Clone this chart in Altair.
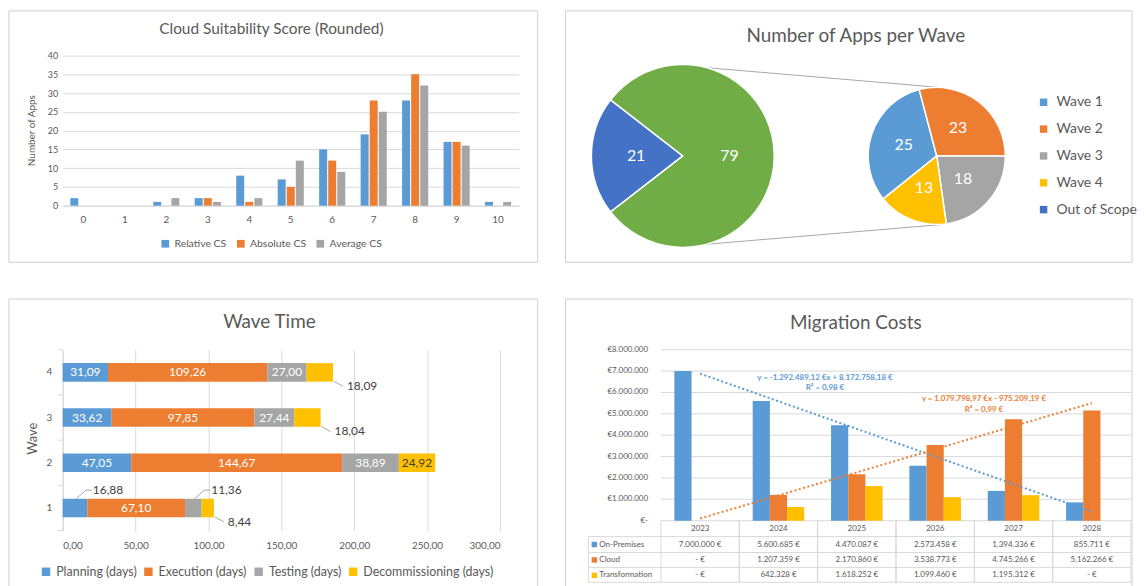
import math
import altair as alt
import pandas as pd

FONT = "Lato"
TXT = "#595959"
DARK = "#404040"
GRID = "#D9D9D9"
FRAME = "#D0D0D0"
LEADER = "#A6A6A6"
BLUE, ORANGE, GRAY, YELLOW = "#5B9BD5", "#ED7D31", "#A5A5A5", "#FFC000"
DBLUE, GREEN = "#4472C4", "#70AD47"

# ---------------- data ----------------
# Cloud Suitability Score (Rounded)
scores = [str(i) for i in range(11)]
cs_series = ["Relative CS", "Absolute CS", "Average CS"]
relative_cs = [2, 0, 1, 2, 8, 7, 15, 19, 28, 17, 1]
absolute_cs = [0, 0, 0, 2, 1, 5, 12, 28, 35, 17, 0]
average_cs = [0, 0, 2, 1, 2, 12, 9, 25, 32, 16, 1]

# Number of Apps per Wave (pie of pie)
scope_labels = ["Out of Scope", "In Scope"]
scope_counts = [21, 79]
wave_labels = ["Wave 1", "Wave 2", "Wave 3", "Wave 4"]
wave_counts = [25, 23, 18, 13]

# Wave Time
waves = ["1", "2", "3", "4"]
stages = ["Planning (days)", "Execution (days)", "Testing (days)", "Decommissioning (days)"]
planning_days = [16.88, 47.05, 33.62, 31.09]
execution_days = [67.10, 144.67, 97.85, 109.26]
testing_days = [11.36, 38.89, 27.44, 27.00]
decommissioning_days = [8.44, 24.92, 18.04, 18.09]

# Migration Costs
years = ["2023", "2024", "2025", "2026", "2027", "2028"]
cost_series = ["On-Premises", "Cloud", "Transformation"]
on_premises = [7000000, 5600685, 4470087, 2573458, 1394336, 855711]
cloud = [0, 1207359, 2170860, 3538773, 4745266, 5162266]
transformation = [0, 642328, 1618252, 1099460, 1195312, 0]
cost_ticks = [0, 1000000, 2000000, 3000000, 4000000, 5000000, 6000000, 7000000, 8000000]
trend_equations = ["y = -1.292.489,12  €x + 8.172.758,18  €", "y = 1.079.798,97  €x - 975.209,19  €"]
trend_r2 = ["R² = 0,98 €", "R² = 0,99 €"]

one = pd.DataFrame({"k": [0]})


def frame(x1, x2, y1, y2):
    return alt.Chart(one).mark_rect(fillOpacity=0, stroke=FRAME, strokeWidth=1).encode(
        x=alt.value(x1), x2=alt.value(x2), y=alt.value(y1), y2=alt.value(y2))


def label(text, x, y, size, color=TXT, **kw):
    return alt.Chart(one).mark_text(text=text, fontSize=size, color=color, **kw).encode(
        x=alt.value(x), y=alt.value(y))


def rule(x1, y1, x2, y2, color=GRID, width=1):
    return alt.Chart(one).mark_rule(color=color, strokeWidth=width).encode(
        x=alt.value(x1), y=alt.value(y1), x2=alt.value(x2), y2=alt.value(y2))


# ---------------- panel A (origin at page 62,53) ----------------
WA, HA = 459, 151
dfA = pd.DataFrame({
    "score": scores * 3,
    "series": sum([[s] * len(scores) for s in cs_series], []),
    "apps": relative_cs + absolute_cs + average_cs,
})
barsA = alt.Chart(dfA).mark_bar().encode(
    x=alt.X("score:N", scale=alt.Scale(domain=scores, paddingInner=0.37, paddingOuter=0.185),
            axis=alt.Axis(title=None, labelAngle=0, labelFontSize=10, labelColor=TXT, labelPadding=9,
                          ticks=False, domainColor=GRID)),
    xOffset=alt.XOffset("series:N", scale=alt.Scale(domain=cs_series, paddingInner=0.12)),
    y=alt.Y("apps:Q", scale=alt.Scale(domain=[0, 40]),
            axis=alt.Axis(values=list(range(0, 41, 5)), title="Number of Apps", titleFontSize=10,
                          titleFontWeight="normal", titleColor=TXT, titleX=-31, titleY=75,
                          titleBaseline="middle", labelFontSize=9, labelColor=TXT, labelPadding=5,
                          ticks=False, domain=False, gridColor=GRID)),
    color=alt.Color("series:N", scale=alt.Scale(domain=cs_series, range=[BLUE, ORANGE, GRAY]),
                    legend=alt.Legend(title=None, orient="none", legendX=98, legendY=184,
                                      direction="horizontal", symbolType="square", symbolSize=60,
                                      symbolStrokeWidth=0, labelFontSize=10.5, labelColor=TXT,
                                      columnPadding=9, labelOffset=4)),
)
A = alt.layer(
    frame(-54, 478, -45, 208),
    barsA,
    label("Cloud Suitability Score (Rounded)", 210, -27, 15.5),
).properties(width=WA, height=HA)

# ---------------- panel B (origin at page 663,53) ----------------
colorB = alt.Scale(domain=wave_labels + scope_labels, range=[BLUE, ORANGE, GRAY, YELLOW, DBLUE, GREEN])
legendB = alt.Legend(title=None, values=wave_labels + ["Out of Scope"], orient="none", legendX=378,
                     legendY=40, symbolType="square", symbolSize=56, symbolStrokeWidth=0,
                     labelFontSize=14, labelColor=TXT, rowPadding=13, labelOffset=6)

dfScope = pd.DataFrame({"label": scope_labels, "count": scope_counts, "rank": [0, 1]})
dfWave = pd.DataFrame({"label": wave_labels, "count": wave_counts, "rank": [0, 1, 2, 3]})

# first-slice angles: out-of-scope slice faces left, wave 2/3 boundary at 3 o'clock
left_start = 1.5 * math.pi - math.pi * scope_counts[0] / sum(scope_counts)
right_start = 0.5 * math.pi - 2 * math.pi * (wave_counts[0] + wave_counts[1]) / sum(wave_counts)


def pie(df, start, cx, cy, r, rl):
    theta = alt.Theta("count:Q", stack=True, scale=alt.Scale(range=[start, start + 2 * math.pi]))
    arcs = alt.Chart(df).mark_arc(radius=r, stroke="white", strokeWidth=1.5).encode(
        theta=theta, order=alt.Order("rank:Q"),
        color=alt.Color("label:N", scale=colorB, legend=legendB),
        x=alt.value(cx), y=alt.value(cy))
    txt = alt.Chart(df).mark_text(radius=rl, fontSize=16, color="white").encode(
        theta=theta, order=alt.Order("rank:Q"), text="count:Q", x=alt.value(cx), y=alt.value(cy))
    return alt.layer(arcs, txt)


B = alt.layer(
    frame(-96, 474, -45, 208),
    rule(44, 12, 280, 32, color=LEADER),
    rule(44, 190, 283, 170, color=LEADER),
    pie(dfScope, left_start, 22, 101, 92, 47),
    pie(dfWave, right_start, 277.5, 101, 69, 35),
    label("Number of Apps per Wave", 196, -20, 19),
).resolve_scale(theta="independent").properties(width=378, height=160)

# ---------------- panel C (origin at page 62,349) ----------------
WC, HC = 440, 182
dfC = pd.DataFrame({
    "wave": waves * 4,
    "stage": sum([[s] * 4 for s in stages], []),
    "si": sum([[i] * 4 for i in range(4)], []),
    "value": planning_days + execution_days + testing_days + decommissioning_days,
})
baseC = alt.Chart(dfC).transform_window(
    cum="sum(value)", sort=[alt.SortField("si")], groupby=["wave"], frame=[None, 0]
).transform_calculate(
    start="datum.cum - datum.value",
    mid="datum.cum - datum.value / 2",
    lbl="replace(format(datum.value, '.2f'), '.', ',')",
)
yScaleC = alt.Scale(domain=waves[::-1], paddingInner=0.59, paddingOuter=0.295)
barsC = baseC.mark_bar().encode(
    y=alt.Y("wave:N", scale=yScaleC,
            axis=alt.Axis(title="Wave", titleFontSize=13, titleFontWeight="normal", titleColor=TXT,
                          titleX=-30, titleY=89, titleBaseline="middle", labelFontSize=10,
                          labelColor=TXT, labelPadding=11, ticks=False, domainColor=GRID)),
    x=alt.X("start:Q", scale=alt.Scale(domain=[0, 300]),
            axis=alt.Axis(values=list(range(0, 301, 50)), title=None, grid=True, gridColor=GRID,
                          domain=False, ticks=False, labelFontSize=10, labelColor=TXT, labelPadding=10,
                          labelExpr="replace(format(datum.value, '.2f'), '.', ',')")),
    x2="cum:Q",
    color=alt.Color("stage:N", scale=alt.Scale(domain=stages, range=[BLUE, ORANGE, GRAY, YELLOW]),
                    legend=alt.Legend(title=None, orient="none", legendX=-23, legendY=217,
                                      direction="horizontal", symbolType="square", symbolSize=72,
                                      symbolStrokeWidth=0, labelFontSize=12.5, labelColor=TXT,
                                      columnPadding=5, labelOffset=4)),
)
insideC = baseC.transform_filter("datum.value >= 20").mark_text(fontSize=12).encode(
    x="mid:Q", y="wave:N", text="lbl:N",
    color=alt.condition("datum.si == 3", alt.value(DARK), alt.value("white")),
)
smallDecom = baseC.transform_filter("datum.value < 20 && datum.si == 3")
smallOther = baseC.transform_filter("datum.value < 20 && datum.si != 3")
decomC = smallDecom.mark_text(fontSize=12, color=DARK, align="left", dx=14, dy=14).encode(
    x="cum:Q", y="wave:N", text="lbl:N")
otherC = smallOther.mark_text(fontSize=12, color=DARK, align="left", dx=18, dy=-18).encode(
    x="mid:Q", y="wave:N", text="lbl:N")
# leader lines (custom symbol paths)
decomLeader = smallDecom.mark_point(
    shape="M-1,-0.56L1,0.56", size=81, filled=False, stroke=LEADER, strokeWidth=1, opacity=1,
    xOffset=5.5, yOffset=11.5).encode(x="cum:Q", y="wave:N")
otherLeader = smallOther.mark_point(
    shape="M-1,0.5625L0.25,-0.5625L1,-0.5625", size=256, filled=False, stroke=LEADER, strokeWidth=1,
    opacity=1, xOffset=9, yOffset=-13.5).encode(x="mid:Q", y="wave:N")
# category-axis tick marks on the band boundaries
dfWaveTicks = pd.DataFrame({"wave": waves})
ticksTop = alt.Chart(dfWaveTicks).mark_point(
    shape="M-1,0L1,0", size=25, filled=False, stroke=GRID, strokeWidth=1, opacity=1,
    xOffset=-2.5, yOffset=-22.75).encode(x=alt.value(0), y="wave:N")
ticksBottom = alt.Chart(dfWaveTicks).transform_filter(alt.datum.wave == waves[0]).mark_point(
    shape="M-1,0L1,0", size=25, filled=False, stroke=GRID, strokeWidth=1, opacity=1,
    xOffset=-2.5, yOffset=22.75).encode(x=alt.value(0), y="wave:N")
C = alt.layer(
    frame(-54, 478, -51, 260),
    barsC, ticksTop, ticksBottom, insideC, decomLeader, otherLeader, decomC, otherC,
    label("Wave Time", 208, -28, 19),
).properties(width=WC, height=HC)

# ---------------- panel D (origin at page 663,349) ----------------
WD, HD = 473, 172
dfD = pd.DataFrame({
    "year": years * 3,
    "series": sum([[s] * len(years) for s in cost_series], []),
    "value": on_premises + cloud + transformation,
})
xScaleD = alt.Scale(domain=years, paddingInner=0, paddingOuter=0)
colorD = alt.Scale(domain=cost_series, range=[BLUE, ORANGE, YELLOW])
yScaleD = alt.Scale(domain=[0, 8000000])

dfTicks = pd.DataFrame({"value": cost_ticks})
gridD = alt.Chart(dfTicks).mark_rule(color=GRID, strokeWidth=1).encode(
    y=alt.Y("value:Q", scale=yScaleD, axis=None))
tickLabelsD = alt.Chart(dfTicks).transform_calculate(
    lbl="datum.value == 0 ? '€-' : '€' + replace(format(datum.value, ',.0f'), regexp(',', 'g'), '.')"
).mark_text(fontSize=8, color=TXT, align="right", baseline="middle").encode(
    x=alt.value(-13), y=alt.Y("value:Q", scale=yScaleD, axis=None), text="lbl:N")

barsD = alt.Chart(dfD).mark_bar().encode(
    x=alt.X("year:N", scale=xScaleD, axis=None),
    xOffset=alt.XOffset("series:N", scale=alt.Scale(domain=cost_series, paddingInner=0, paddingOuter=0.78)),
    y=alt.Y("value:Q", scale=yScaleD, axis=None),
    color=alt.Color("series:N", scale=colorD, legend=None),
)


def trend(series, color, eq_text, r2_text, tx, ty):
    line = alt.Chart(dfD).transform_filter(alt.datum.series == series).transform_calculate(
        idx="toNumber(datum.year) - 2022"
    ).transform_regression("idx", "value").transform_calculate(
        year="toString(2022 + round(datum.idx))"
    ).mark_line(strokeDash=[2, 2.5], strokeWidth=2, color=color).encode(
        x=alt.X("year:N", scale=xScaleD, axis=None),
        y=alt.Y("value:Q", scale=yScaleD, axis=None))
    eq = label(eq_text, tx, ty, 8, color=color, fontWeight="bold")
    r2 = label(r2_text, tx, ty + 11, 8, color=color, fontWeight="bold")
    return [line, eq, r2]


plotD = alt.layer(gridD, tickLabelsD, barsD,
                  *trend("On-Premises", BLUE, trend_equations[0], trend_r2[0], 165, 28),
                  *trend("Cloud", ORANGE, trend_equations[1], trend_r2[1], 325, 50))

rowScale = alt.Scale(type="point", domain=cost_series, range=[196, 227], padding=0)
dfRows = pd.DataFrame({"series": cost_series})
cellExpr = "datum.value == 0 ? '-  €' : replace(format(datum.value, ',.0f'), regexp(',', 'g'), '.') + ' €'"
cells = alt.Chart(dfD).transform_calculate(cell=cellExpr).mark_text(fontSize=8, color=TXT).encode(
    x=alt.X("year:N", scale=xScaleD, axis=None),
    y=alt.Y("series:N", scale=rowScale, axis=None), text="cell:N")
rowNames = alt.Chart(dfRows).mark_text(fontSize=8, color=TXT, align="left").encode(
    x=alt.value(-62), y=alt.Y("series:N", scale=rowScale, axis=None), text="series:N")
rowKeys = alt.Chart(dfRows).mark_square(size=30, opacity=1).encode(
    x=alt.value(-67), y=alt.Y("series:N", scale=rowScale, axis=None),
    color=alt.Color("series:N", scale=colorD, legend=None))
tableD = alt.layer(cells, rowNames, rowKeys)

dfYears = pd.DataFrame({"year": years})
header = alt.Chart(dfYears).mark_text(fontSize=8, color=TXT).encode(
    x=alt.X("year:N", scale=xScaleD, axis=None), y=alt.value(180), text="year:N")
vStart = alt.Chart(dfYears).mark_rule(color=GRID).encode(
    x=alt.X("year:N", scale=xScaleD, axis=None, bandPosition=0), y=alt.value(HD), y2=alt.value(234))
vEnd = alt.Chart(dfYears).mark_rule(color=GRID).encode(
    x=alt.X("year:N", scale=xScaleD, axis=None, bandPosition=1), y=alt.value(HD), y2=alt.value(234))

D = alt.layer(
    frame(-96, 474, -51, 260),
    label("Migration Costs", 196, -27, 19),
    plotD,
    tableD,
    header, vStart, vEnd,
    rule(-73, 188, WD, 188), rule(-73, 204, WD, 204), rule(-73, 219, WD, 219), rule(-73, 234, WD, 234),
    rule(-73, 188, -73, 234),
).resolve_scale(y="independent").properties(width=WD, height=HD)

chart = alt.concat(
    A, B, C, D, columns=2, spacing={"row": 35, "column": 26}, align="each"
).resolve_scale(
    color="independent", xOffset="independent", theta="independent"
).properties(padding=0).configure(font=FONT).configure_view(strokeWidth=0)

chart.save("out.html", embed_options={"renderer": "svg", "actions": False})
